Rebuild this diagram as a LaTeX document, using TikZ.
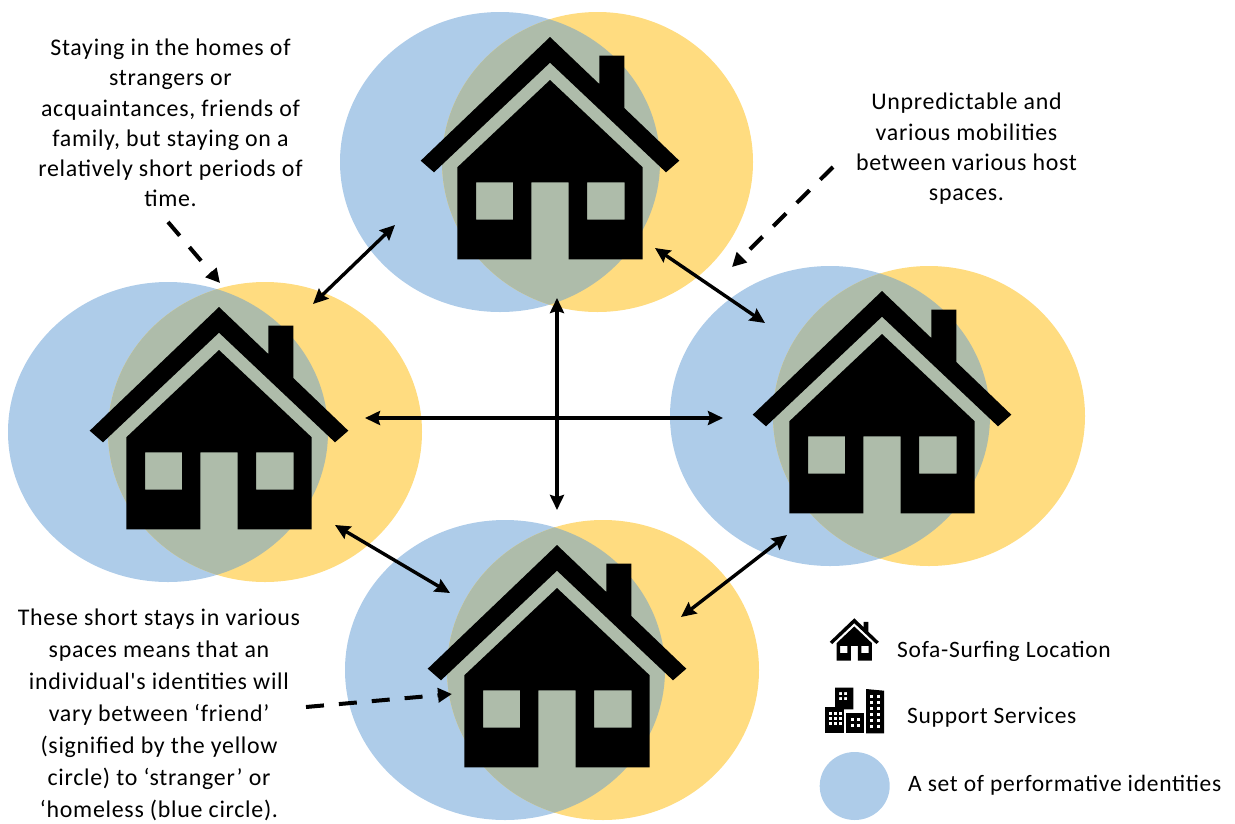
\documentclass[tikz,border=0pt]{standalone}
\usepackage{fontspec}
\newfontfamily\cfont[LetterSpace=3]{Carlito}
\usetikzlibrary{arrows.meta}
\definecolor{cblue}{RGB}{174,204,233}
\definecolor{cyellow}{RGB}{255,220,128}
\definecolor{coverlap}{RGB}{174,188,170}
\tikzset{
  x=1pt,y=-1pt,
  house/.pic={
    \fill[black] (-129.3,123.7) -- (0,0) -- (49.3,47) -- (49.3,18.7) -- (74.3,18.7) -- (74.3,71) -- (129.3,123.7) -- (116,135.3) -- (0,25.7) -- (-116,135.3) -- cycle;
    \fill[black,even odd rule] (0,43) -- (92.7,130.3) -- (92.7,222.3) -- (18.7,222.3) -- (18.7,145.3) -- (-18.7,145.3) -- (-18.7,222.3) -- (-92.7,222.3) -- (-92.7,130.3) -- cycle
      (-74,145.3) rectangle (-37,182.7) (37,145.3) rectangle (74.7,182.7);
  },
  dbl/.style={line width=3.4pt,{Stealth[length=15pt,width=14pt,inset=2pt]}-{Stealth[length=15pt,width=14pt,inset=2pt]}},
  dsh/.style={line width=4pt,-{Triangle[length=14pt,width=14pt]},dash pattern=on 18pt off 15pt},
  txt/.style={align=center,font=\cfont\fontsize{23.9}{30.3}\selectfont,inner sep=0pt},
  leg/.style={anchor=west,font=\cfont\fontsize{23.5}{26}\selectfont,inner sep=0pt},
  pics/venn/.style n args={6}{code={
    \fill[cblue] (#1,#5) ellipse [x radius=160,y radius=150];
    \fill[cyellow] (#2,#5) ellipse [x radius=#3,y radius=150];
    \begin{scope}
      \clip (#1,#5) ellipse [x radius=160,y radius=150];
      \fill[coverlap] (#2,#5) ellipse [x radius=#3,y radius=150];
    \end{scope}
  }},
}
\begin{document}
\begin{tikzpicture}
\useasboundingbox (0,0) rectangle (1235,823);
\pic {venn={500}{597.5}{155.5}{0}{162}{0}};
\pic {venn={168}{265}{157}{0}{432}{0}};
\pic {venn={830}{929}{156}{0}{416}{0}};
\pic {venn={505}{603}{156}{0}{670}{0}};
\pic at (550,37) {house};
\pic at (219,307) {house};
\pic at (882,291) {house};
\pic at (557,545) {house};
\coordinate (a1) at (395,225); \coordinate (a2) at (313,304);
\coordinate (b1) at (655,248); \coordinate (b2) at (765,323);
\coordinate (c1) at (557,298); \coordinate (c2) at (557,510);
\coordinate (d1) at (365,418); \coordinate (d2) at (723,418);
\coordinate (e1) at (335,525); \coordinate (e2) at (450,593);
\coordinate (f1) at (787,535); \coordinate (f2) at (681,617);
\coordinate (g1) at (168,222); \coordinate (g2) at (220,283);
\coordinate (h1) at (833,167); \coordinate (h2) at (732,267);
\coordinate (i1) at (306,707); \coordinate (i2) at (452,694);
\draw[dbl] (a1) -- (a2);
\draw[dbl] (b1) -- (b2);
\draw[dbl] (c1) -- (c2);
\draw[dbl] (d1) -- (d2);
\draw[dbl] (e1) -- (e2);
\draw[dbl] (f1) -- (f2);
\draw[dsh] (g1) -- (g2);
\draw[dsh] (h1) -- (h2);
\draw[dsh] (i1) -- (i2);
\node[txt] (t1) at (170.5,123) {Staying in the homes of\\strangers or\\acquaintances, friends of\\family, but staying on a\\relatively short periods of\\time.};
\node[txt] (t2) at (966.5,149) {Unpredictable and\\various mobilities\\between various host\\spaces.};
\node[txt,font=\cfont\fontsize{23.9}{32}\selectfont] (t3) at (159,715) {These short stays in various\\spaces means that an\\individual's identities will\\vary between ‘friend’\\(signified by the yellow\\circle) to ‘stranger’ or\\‘homeless (blue circle).};
\pic[scale=.19] at (854.3,618.3) {house};
\begin{scope}
  \fill[black,even odd rule] (835,687.7) rectangle (853.3,709.3) (839,692) rectangle (842,695) (844,692) rectangle (847,695) (839,697) rectangle (842,700) (844,697) rectangle (847,700);
  \fill[black] (825,707.3) rectangle (844.3,733.3);
  \fill[black] (846,712.7) rectangle (864,733.3);
  \fill[black] (866,689) -- (884,690.7) -- (884,733.3) -- (866,733.3) -- cycle;
  \foreach \x in {829,834,839} \foreach \y in {712,717,722} \fill[white] (\x,\y) rectangle +(3,3);
  \foreach \x in {851,857} \foreach \y in {718,724} \fill[white] (\x,\y) rectangle +(3,3);
  \foreach \x in {870,877} \foreach \y in {695,701,707,713,719,725} \fill[white] (\x,\y) rectangle +(3,3);
\end{scope}
\fill[cblue] (854.7,786) ellipse [x radius=35,y radius=34];
\node[leg] (l1) at (897,651) {Sofa-Surfing Location};
\node[leg] (l2) at (907,717) {Support Services};
\node[leg] (l3) at (908,785) {A set of performative identities};
\end{tikzpicture}
\end{document}
